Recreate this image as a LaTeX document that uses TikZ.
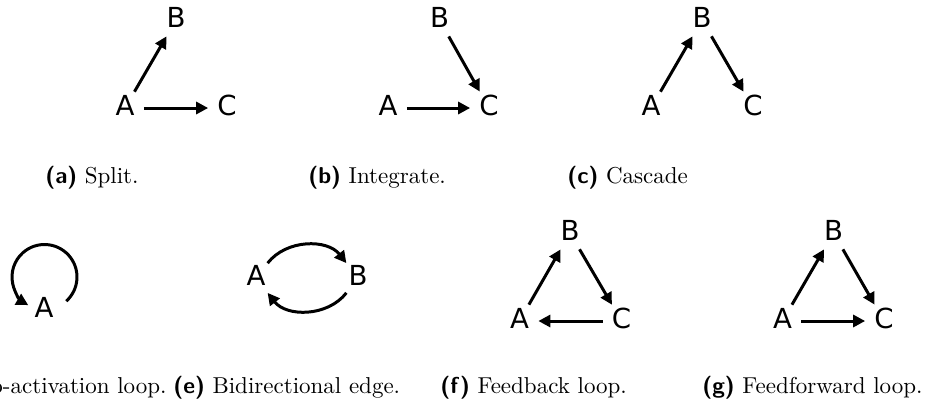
\documentclass[tikz,border=0pt]{standalone}
\usepackage{fontspec}
\newfontfamily\nodefont{DejaVu Sans}
\usetikzlibrary{arrows.meta}
\begin{document}
\begin{tikzpicture}[x=0.4348pt,y=0.4348pt,
  vtx/.style={circle, inner sep=0pt, minimum size=16pt,
    font=\nodefont\fontsize{12}{14}\selectfont, text height=8.75pt, text depth=2.6pt},
  arr/.style={line width=1.3pt, -{Triangle[length=5.2pt,width=5.2pt]}},
  captxt/.style={anchor=base west, inner sep=0pt, font=\fontsize{10}{12}\selectfont},
  captxtr/.style={captxt, anchor=base east}]
\useasboundingbox (0,0) rectangle (926,405);
% (a) Split
\node[vtx] (aA) at (125,297) {A};
\node[vtx] (aB) at (176,385) {B};
\node[vtx] (aC) at (227,297) {C};
\draw[arr] (aA) -- (aB);
\draw[arr] (aA) -- (aC);
% (b) Integrate
\node[vtx] (bA) at (388,297) {A};
\node[vtx] (bB) at (439.5,385) {B};
\node[vtx] (bC) at (489,297) {C};
\draw[arr] (bA) -- (bC);
\draw[arr] (bB) -- (bC);
% (c) Cascade
\node[vtx] (cA) at (651,297) {A};
\node[vtx] (cB) at (702,385) {B};
\node[vtx] (cC) at (753,297) {C};
\draw[arr] (cA) -- (cB);
\draw[arr] (cB) -- (cC);
% (d) Auto-activation loop
\node[vtx] (dA) at (44,95) {A};
\coordinate (dL) at (44.5,128);
\draw[arr] ([shift={(-48:32.5)}]dL) arc[start angle=-48, end angle=240, radius=32.5];
% (e) Bidirectional edge
\node[vtx] (eA) at (256,127) {A};
\node[vtx] (eB) at (358,127) {B};
\draw[arr] (eA) to[bend left=52] (eB);
\draw[arr] (eB) to[bend left=52] (eA);
% (f) Feedback loop
\node[vtx] (fA) at (519.5,84) {A};
\node[vtx] (fB) at (570,172) {B};
\node[vtx] (fC) at (621.5,84) {C};
\draw[arr] (fA) -- (fB);
\draw[arr] (fB) -- (fC);
\draw[arr] (fC) -- (fA);
% (g) Feedforward loop
\node[vtx] (gA) at (782.5,84) {A};
\node[vtx] (gB) at (833.5,172) {B};
\node[vtx] (gC) at (884,84) {C};
\draw[arr] (gA) -- (gB);
\draw[arr] (gB) -- (gC);
\draw[arr] (gA) -- (gC);
% captions
\node[captxt] (ca) at (45,222) {\textsf{\textbf{(a)}} Split.};
\node[captxt] (cb) at (308,222) {\textsf{\textbf{(b)}} Integrate.};
\node[captxt] (cc) at (567,222) {\textsf{\textbf{(c)}} Cascade};
\node[captxtr] (cd) at (167,12) {\textsf{\textbf{(d)}} Auto-activation loop.};
\node[captxt] (ce) at (173,12) {\textsf{\textbf{(e)}} Bidirectional edge.};
\node[captxt] (cf) at (440,12) {\textsf{\textbf{(f)}} Feedback loop.};
\node[captxt] (cg) at (702,12) {\textsf{\textbf{(g)}} Feedforward loop.};
\end{tikzpicture}
\end{document}
